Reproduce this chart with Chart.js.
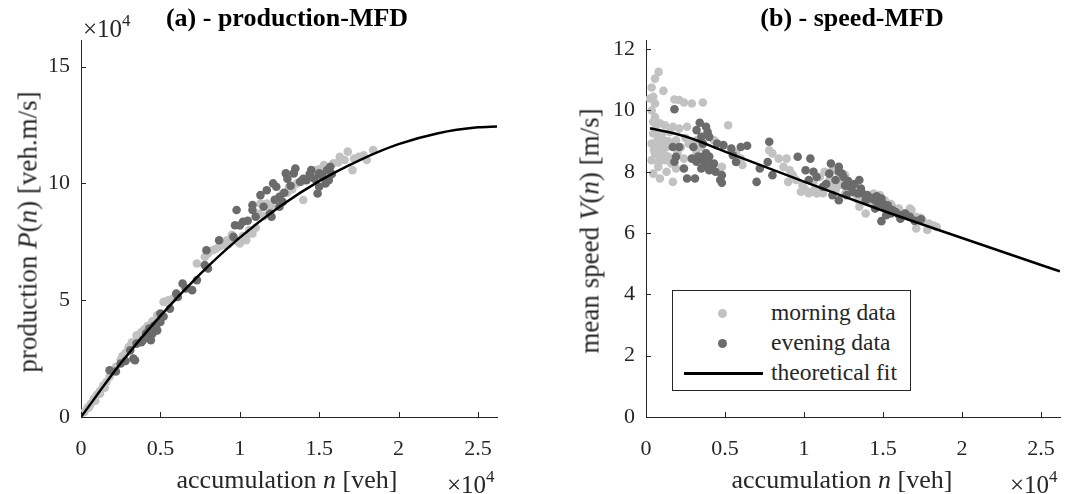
<!DOCTYPE html>
<html>
<head>
<meta charset="utf-8">
<script src="https://cdn.jsdelivr.net/npm/chart.js@4.4.1/dist/chart.umd.min.js"></script>
<style>
  html, body { margin: 0; padding: 0; background: #fff; }
  #wrap { position: relative; width: 1082px; height: 494px; font-family: "Liberation Serif", "Times New Roman", serif; color: #262626; overflow: hidden; }
  .panel { position: absolute; top: 0; width: 541px; height: 494px; }
  .txt { position: absolute; white-space: nowrap; line-height: 1; transform: translate(-50%, -50%); font-size: 26px; }
  .ttl { font-weight: bold; color: #000; font-size: 26px; }
  .rot { transform: translate(-50%, -50%) rotate(-90deg); font-size: 27px; }
  .exp { position: absolute; white-space: nowrap; line-height: 1; transform: translateY(-50%); font-size: 25px; }
  .exp sup { font-size: 17px; vertical-align: 11px; line-height: 0; }
  #legend { position: absolute; left: 672px; top: 290px; width: 237px; height: 99px; border: 1px solid #262626; background: #fff; font-size: 23.5px; }
  #legend .row { position: absolute; left: 0; width: 100%; height: 26px; transform: translateY(-50%); }
  #legend .lbl { position: absolute; left: 98px; top: 50%; transform: translateY(-50%); line-height: 1; white-space: nowrap; }
  #legend .dot { position: absolute; left: 45px; top: 50%; width: 9px; height: 9px; margin-top: -4.5px; border-radius: 50%; }
  #legend .ln { position: absolute; left: 11px; top: 50%; width: 79px; height: 3px; margin-top: -1px; background: #000; }
</style>
</head>
<body>
<div id="wrap">
  <div class="panel" style="left:0"><canvas id="prodChart"></canvas></div>
  <div class="panel" style="left:541px"><canvas id="speedChart"></canvas></div>

  <div class="txt ttl" style="left:287px;top:18px">(a) - production-MFD</div>
  <div class="txt ttl" style="left:852px;top:18px">(b) - speed-MFD</div>

  <div class="exp" style="left:83px;top:28px">&times;10<sup>4</sup></div>
  <div class="txt" style="left:287px;top:480px">accumulation <i>n</i> [veh]</div>
  <div class="exp" style="left:447px;top:484px">&times;10<sup>4</sup></div>
  <div class="txt rot" style="left:28px;top:232px">production <i>P</i>(<i>n</i>) [veh.m/s]</div>

  <div class="txt" style="left:842px;top:480px">accumulation <i>n</i> [veh]</div>
  <div class="exp" style="left:1010px;top:484px">&times;10<sup>4</sup></div>
  <div class="txt rot" style="left:590px;top:231px">mean speed <i>V</i>(<i>n</i>) [m/s]</div>

  <div id="legend">
    <div class="row" style="top:22px"><span class="dot" style="background:#c2c2c2"></span><span class="lbl">morning data</span></div>
    <div class="row" style="top:52px"><span class="dot" style="background:#6b6b6b"></span><span class="lbl">evening data</span></div>
    <div class="row" style="top:82px"><span class="ln"></span><span class="lbl">theoretical fit</span></div>
  </div>
</div>

<script>
// ─── Data (accumulation in 1e4 veh, production in 1e4 veh.m/s, speed in m/s) ──
const MORNING_SPEED_N = [0.08,0.057,0.036,0.11,0.025,0.046,0.057,0.036,0.057,0.18,0.21,0.24,0.29,0.36,0.52,
  0.046,0.088,0.12,0.17,0.15,0.21,0.26,0.046,0.078,0.11,0.036,0.067,0.1,0.13,0.16,0.19,0.057,0.088,0.12,0.036,
  0.16,0.19,0.078,0.046,0.088,0.13,0.17,0.24,0.27,0.32,0.35,0.32,0.38,0.43,0.48,0.57,0.6,0.61,
  0.78,0.8,0.84,0.89,0.87,0.91,0.93,0.9,0.95,0.99,0.98,1.01,1.05,1.08,1.11,1.06,1.1,1.13,1.16,1.18,1.22,1.26,
  1.3,1.32,1.35,1.39,1.4,1.44,1.48,1.51,1.53,1.56,1.6,1.63,1.67,1.68,1.71,1.75,1.79,1.71,1.78,1.84,1.18,1.26,
  0.05,0.07,0.09,0.1,0.14,0.06,0.08,0.11,0.14,0.2,0.22,0.25,0.28,
  1.0,1.03,1.07,1.12,1.14,1.2,1.24,1.34,1.42,1.46,1.55,1.58,1.65,1.74,1.82];
const MORNING_SPEED_V = [11.26,11.04,10.75,10.64,10.39,10.45,10.23,10.0,9.79,10.36,10.34,10.26,10.23,10.26,9.52,
  9.63,9.58,9.52,9.47,9.3,9.41,9.47,9.25,9.14,9.03,8.92,8.81,8.76,8.81,8.92,9.03,8.6,8.49,8.38,8.38,
  8.27,8.11,8.16,7.94,7.78,8.0,7.67,8.43,8.92,9.03,8.81,8.65,9.2,9.03,8.16,8.6,8.43,8.22,
  8.7,8.6,8.43,8.43,8.16,8.05,7.89,7.67,7.73,7.56,7.35,7.4,7.35,7.29,7.35,7.67,7.83,8.0,7.73,7.51,7.56,7.29,
  7.4,7.29,6.86,6.64,7.07,7.29,7.24,7.07,6.96,6.86,6.8,6.64,6.8,6.75,6.53,6.42,6.31,6.15,6.1,6.2,8.05,7.89,
  8.7,9.0,8.9,9.2,9.0,9.4,8.3,8.6,8.5,8.6,8.8,9.1,8.95,
  7.45,7.3,7.45,7.3,7.5,7.4,7.6,7.1,7.0,6.9,6.95,6.7,6.6,6.5,6.25];

const EVENING_SPEED_N = [0.18,0.34,0.38,0.39,0.35,0.32,0.4,0.45,0.36,0.3,0.49,0.54,0.6,0.64,0.29,0.32,0.36,0.39,
  0.37,0.43,0.35,0.4,0.44,0.48,0.47,0.48,0.24,0.26,0.31,0.19,0.18,0.17,0.21,0.57,0.55,0.7,0.72,0.78,0.77,0.8,
  0.96,1.04,1.01,1.06,1.08,1.03,1.12,1.17,1.22,1.22,1.24,1.25,1.16,1.2,1.18,1.22,1.27,1.29,1.31,1.35,1.34,1.37,
  1.4,1.43,1.45,1.47,1.49,1.5,1.53,1.49,1.52,1.55,1.56,1.52,1.58,1.64,1.67,1.61,1.45,1.39,
  0.36,0.4,0.42,0.33,0.38,1.14,1.26,1.28,1.32,1.36,1.42,1.46,1.48,1.51,1.54,1.6,1.7,1.74];
const EVENING_SPEED_V = [10.04,9.6,9.47,9.3,9.14,9.36,9.14,8.92,8.92,8.81,8.87,8.76,8.81,8.85,8.43,8.33,8.49,8.38,
  8.22,8.27,8.11,8.05,8.0,7.89,7.73,7.64,8.11,7.78,7.78,8.49,8.33,8.81,8.81,8.32,8.54,7.67,8.11,8.98,8.32,7.89,
  8.49,8.43,8.05,8.0,7.83,7.73,7.51,8.27,8.16,8.0,7.94,7.83,7.94,7.73,7.24,7.07,7.24,7.51,7.35,7.73,7.29,7.29,
  7.24,7.13,7.07,7.02,7.13,6.96,6.91,6.39,6.58,6.64,6.75,6.8,6.69,6.64,6.53,6.47,6.8,7.07,
  8.4,8.5,8.2,8.5,8.6,7.6,7.55,7.7,7.6,7.45,7.15,7.2,6.95,6.85,6.75,6.6,6.4,6.45];

const MORNING_PROD_N = [0.02,0.04,0.06,0.08,0.1,0.12,0.14,0.16,0.18,0.2,0.22,0.25,0.28,0.3,0.35,0.38,0.42,0.52,
  0.55,0.58,0.12,0.15,0.09,0.05,0.73,0.78,0.83,0.87,0.9,0.92,0.96,1.0,1.04,1.04,1.08,1.06,1.12,1.13,1.17,1.23,
  1.27,1.31,1.4,1.36,1.39,1.48,1.53,1.59,1.63,1.68,1.71,1.75,1.8,1.84,1.72,
  0.8,0.85,0.88,0.93,0.95,0.98,1.02,1.1,1.15,1.2,1.25,1.3,1.33,1.45,1.5,1.55,1.62,1.66,1.78,
  0.32,0.36,0.4,0.45,0.48,0.26,0.3];
const MORNING_PROD_P = [0.2,0.38,0.55,0.78,0.95,1.12,1.35,1.5,1.72,1.95,2.15,2.45,2.75,3.0,3.5,3.64,3.9,4.93,
  5.0,5.07,1.0,1.25,0.7,0.42,6.57,6.86,7.14,7.29,7.36,7.57,7.64,7.43,7.57,7.71,7.86,8.0,8.71,9.14,9.14,9.29,
  9.57,9.86,9.29,10.0,10.07,10.57,10.79,10.86,11.14,11.36,10.57,11.14,11.0,11.43,11.07,
  7.0,7.2,7.45,7.4,7.8,7.55,7.75,8.1,8.6,9.0,9.4,9.6,9.75,10.3,10.6,10.5,10.9,11.0,11.2,
  3.2,3.45,3.75,4.1,4.35,2.6,2.85];

const EVENING_PROD_N = [0.18,0.25,0.33,0.31,0.35,0.39,0.41,0.43,0.48,0.45,0.5,0.48,0.5,0.56,0.6,0.64,0.7,0.73,
  0.79,0.78,0.8,0.97,0.98,1.02,1.08,1.1,1.15,1.17,1.21,1.23,1.25,1.19,1.2,1.29,1.34,1.38,1.42,1.45,1.49,1.5,
  1.55,1.57,1.56,1.5,1.35,1.25,1.08,1.27,0.96,0.87,0.34,0.44,0.61,
  1.3,1.32,1.4,1.44,1.52,1.54,1.58,1.47,1.28,1.22,1.13,1.05,1.0,0.46,0.42,0.38,0.28,0.22,0.52,0.66];
const EVENING_PROD_P = [2.0,2.29,2.5,2.86,3.14,3.29,3.57,3.79,4.0,3.57,4.07,3.71,4.43,4.64,5.29,5.71,5.43,5.86,
  7.14,6.5,6.36,8.21,8.86,8.36,8.86,8.57,9.0,9.71,10.0,9.86,9.43,8.71,8.57,10.43,10.43,10.07,10.14,10.57,9.57,10.43,
  10.57,10.71,10.14,9.86,10.64,9.0,9.07,9.21,7.71,7.57,2.43,3.29,5.14,
  10.2,9.9,10.2,10.4,10.3,10.0,10.4,10.2,9.6,9.3,9.5,8.4,8.2,3.9,3.6,3.2,2.4,1.95,4.3,5.5];

// theoretical fit
const FIT_PROD_N = [0, 0.25, 0.5, 0.75, 1, 1.25, 1.5, 1.75, 2, 2.25, 2.5, 2.62];
const FIT_PROD_P = [0, 2.30, 4.33, 6.12, 7.68, 9.0, 10.1, 10.98, 11.68, 12.15, 12.4, 12.44];
const FIT_SPEED_N = [0.025, 0.25, 0.5, 0.75, 1, 1.25, 1.5, 1.75, 2, 2.25, 2.5, 2.62];
const FIT_SPEED_V = [9.42, 9.15, 8.66, 8.17, 7.68, 7.2, 6.73, 6.28, 5.84, 5.4, 4.96, 4.75];

const LIGHT = '#c2c2c2';
const DARK  = '#6b6b6b';
const AXIS  = '#262626';

const pts = (xs, ys) => xs.map((x, i) => ({ x, y: ys[i] }));

// ─── Inward MATLAB-style tick marks ───────────────────────────────────────────
const inwardTicks = {
  id: 'inwardTicks',
  afterDatasetsDraw(chart) {
    const { ctx, chartArea: a, scales: { x, y } } = chart;
    ctx.save();
    ctx.strokeStyle = AXIS;
    ctx.lineWidth = 1;
    ctx.beginPath();
    x.ticks.forEach(t => {
      const px = Math.round(x.getPixelForValue(t.value)) + 0.5;
      ctx.moveTo(px, a.bottom); ctx.lineTo(px, a.bottom - 5);
    });
    y.ticks.forEach(t => {
      const py = Math.round(y.getPixelForValue(t.value)) + 0.5;
      ctx.moveTo(a.left, py); ctx.lineTo(a.left + 5, py);
    });
    ctx.stroke();
    ctx.restore();
  }
};

function makeChart(id, cfg) {
  const ctx = document.getElementById(id).getContext('2d');
  const tickFont = { family: '"Liberation Serif", serif', size: 22 };
  return new Chart(ctx, {
    type: 'scatter',
    data: {
      datasets: [{
        label: 'theoretical fit',
        data: cfg.fit,
        showLine: true,
        borderColor: '#000',
        borderWidth: 2.5,
        pointRadius: 0,
        cubicInterpolationMode: 'monotone'
      }, {
        label: 'evening data',
        data: cfg.evening,
        backgroundColor: DARK,
        borderWidth: 0,
        pointRadius: 4.3
      }, {
        label: 'morning data',
        data: cfg.morning,
        backgroundColor: LIGHT,
        borderWidth: 0,
        pointRadius: 4.3
      }]
    },
    options: {
      responsive: false,
      animation: false,
      layout: { padding: { left: 0, right: cfg.padRight, top: 40, bottom: 0 } },
      plugins: { legend: { display: false }, tooltip: { enabled: false } },
      scales: {
        x: {
          type: 'linear', min: 0, max: 2.62,
          afterFit: s => { s.height = 77; },
          grid: { drawOnChartArea: false, drawTicks: false },
          border: { color: AXIS, width: 1 },
          ticks: { stepSize: 0.5, includeBounds: false, padding: 19, color: AXIS, font: tickFont,
            callback: v => String(+v.toFixed(2)) }
        },
        y: {
          type: 'linear', min: 0, max: cfg.yMax,
          afterFit: s => { s.width = cfg.yWidth; },
          grid: { drawOnChartArea: false, drawTicks: false },
          border: { color: AXIS, width: 1 },
          ticks: { stepSize: cfg.yStep, includeBounds: false, padding: 11, color: AXIS, font: tickFont,
            callback: v => String(+v.toFixed(2)) }
        }
      }
    },
    plugins: [inwardTicks]
  });
}

['prodChart', 'speedChart'].forEach(id => {
  const c = document.getElementById(id);
  c.width = 541; c.height = 494;
});

makeChart('prodChart', {
  fit: pts(FIT_PROD_N, FIT_PROD_P),
  morning: pts(MORNING_PROD_N, MORNING_PROD_P),
  evening: pts(EVENING_PROD_N, EVENING_PROD_P),
  yMax: 16.14, yStep: 5, yWidth: 81, padRight: 44
});

makeChart('speedChart', {
  fit: pts(FIT_SPEED_N, FIT_SPEED_V),
  morning: pts(MORNING_SPEED_N, MORNING_SPEED_V),
  evening: pts(EVENING_SPEED_N, EVENING_SPEED_V),
  yMax: 12.3, yStep: 2, yWidth: 105, padRight: 22
});
</script>
</body>
</html>
